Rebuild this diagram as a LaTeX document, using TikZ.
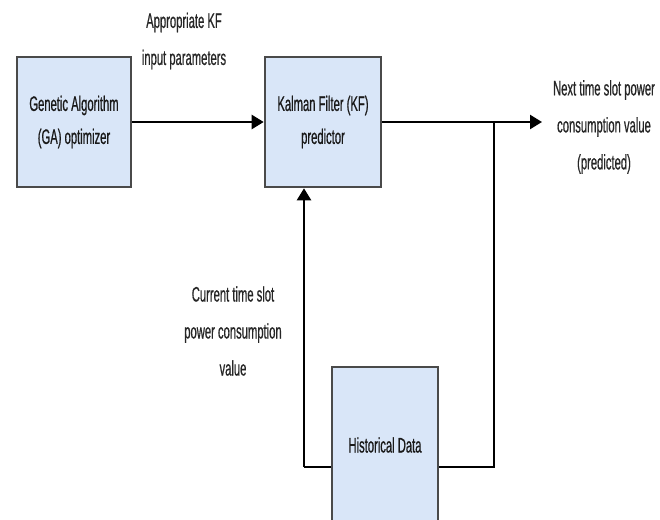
\documentclass[tikz,border=0pt]{standalone}
\usepackage{fontspec}
\setmainfont{Liberation Sans}[FakeStretch=0.535,FakeBold=0.6]
\usetikzlibrary{arrows.meta}
\definecolor{boxfill}{HTML}{D9E6F8}
\definecolor{boxline}{HTML}{4A4A4A}
\tikzset{
  blk/.style={draw=boxline, line width=2.6pt, fill=boxfill, inner sep=0pt, align=center, font=\fontsize{21}{33}\selectfont, text=black!90},
  conn/.style={draw=black, line width=2.4pt},
  arr/.style={conn, -{Triangle[length=12pt,width=14pt]}},
  lbl/.style={align=center, font=\fontsize{21}{37}\selectfont, text=black!85}
}
\begin{document}
\begin{tikzpicture}[x=1pt,y=-1pt]
\useasboundingbox (0,0) rectangle (660,519);
\node[blk, minimum width=114pt, minimum height=130pt] (ga) at (74,122) {Genetic Algorithm\\(GA) optimizer};
\node[blk, minimum width=116pt, minimum height=130pt] (kf) at (323,122) {Kalman Filter (KF)\\predictor};
\node[blk, minimum width=106pt, minimum height=156pt] (hd) at (385,445) {Historical Data};
\node[lbl] (l1) at (184,41) {Appropriate KF\\input parameters};
\node[lbl] (l2) at (604,127) {Next time slot power\\consumption value\\(predicted)};
\node[lbl] (l3) at (233,331) {Current time slot\\power consumption\\value};
\coordinate (out) at (542,122);
\coordinate (j) at (494,122);
\coordinate (br) at (494,467);
\coordinate (bl) at (304,467);
\draw[arr] (ga.east) -- (kf.west);
\draw[arr] (kf.east) -- (out);
\draw[conn] (j) -- (br) -- (hd.east |- br);
\draw[conn] (hd.west |- bl) -- (bl);
\draw[arr] (bl) -- (bl |- kf.south);
\end{tikzpicture}
\end{document}
